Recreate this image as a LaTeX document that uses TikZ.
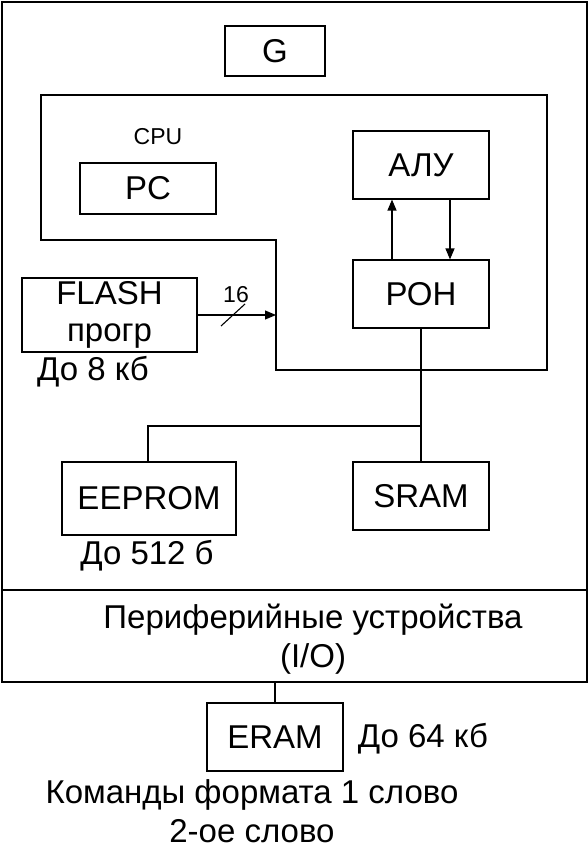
\documentclass[tikz,border=0pt]{standalone}
\usepackage{fontspec}
\setmainfont{Liberation Sans}
\usetikzlibrary{arrows.meta}
\begin{document}
\begin{tikzpicture}[x=1pt,y=-1pt,
  box/.style={draw,line width=1.1pt,inner sep=0pt,font=\fontsize{33}{37}\selectfont},
  lbl/.style={inner sep=0pt,yshift=-3pt,font=\fontsize{33}{37}\selectfont,align=center},
  small/.style={inner sep=0pt,font=\fontsize{23}{27}\selectfont},
  wire/.style={line width=1.1pt},
  arr/.style={line width=1.1pt,-{Triangle[length=11pt,width=9pt]}}]
\useasboundingbox (0,0) rectangle (588,850);
\node[box,minimum width=585pt,minimum height=588pt] (outer) at (294.5,296) {};
\node[box,minimum width=585pt,minimum height=92pt] (io) at (294.5,636) {};
\node[lbl,font=\fontsize{33}{39}\selectfont] (iotext) at (313,636) {Периферийные устройства\\(I/O)};
\node[box,minimum width=100pt,minimum height=50pt] (g) at (275,51) {G};
\draw[wire] (41,95) -- (547,95) -- (547,370) -- (276,370) -- (276,240) -- (41,240) -- cycle;
\coordinate (cpuin) at (276,315);
\node[small] (cpu) at (158,137) {CPU};
\node[box,minimum width=136pt,minimum height=51pt] (pc) at (148,188.5) {PC};
\node[box,minimum width=136pt,minimum height=68pt] (alu) at (421,165) {АЛУ};
\node[box,minimum width=136pt,minimum height=68pt] (ron) at (421,294) {РОН};
\node[box,minimum width=175pt,minimum height=74pt,align=center,font=\fontsize{33}{37}\selectfont] (flash) at (109.5,315) {FLASH\\прогр};
\node[lbl] (f8) at (93,369) {До 8 кб};
\draw[arr] (flash.east) -- (cpuin);
\coordinate (s1) at (221,326);
\coordinate (s2) at (245,304);
\draw[wire] (s1) -- (s2);
\node[small] (n16) at (236,295) {16};
\draw[arr] (ron.north -| 392,0) -- (alu.south -| 392,0);
\draw[arr] (alu.south -| 450,0) -- (ron.north -| 450,0);
\node[box,minimum width=174pt,minimum height=73pt] (eeprom) at (149,498.5) {EEPROM};
\node[lbl] (e512) at (147,553) {До 512 б};
\node[box,minimum width=136pt,minimum height=68pt] (sram) at (421,496) {SRAM};
\coordinate (bus) at (421,426);
\draw[wire] (ron.south) -- (sram.north);
\draw[wire] (bus) -- (148,426) -- (eeprom.north -| 148,0);
\node[box,minimum width=136pt,minimum height=68pt] (eram) at (275,737) {ERAM};
\draw[wire] (io.south -| eram.north) -- (eram.north);
\node[lbl] (e64) at (423,736) {До 64 кб};
\node[lbl] (cmd1) at (252,792) {Команды формата 1 слово};
\node[lbl] (cmd2) at (252,828) {2-ое слово};
\end{tikzpicture}
\end{document}
